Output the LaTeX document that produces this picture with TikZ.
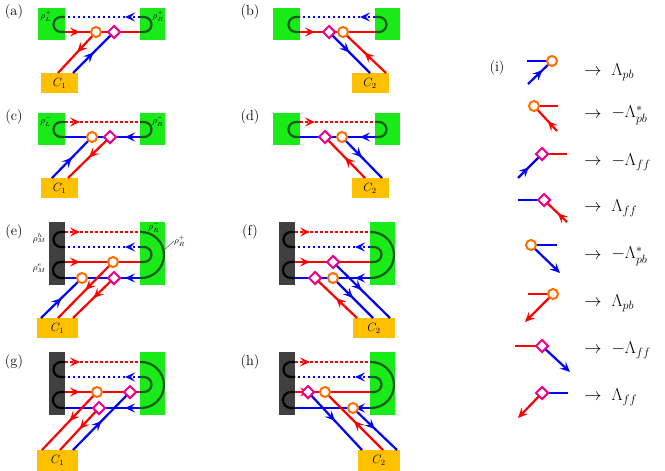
\documentclass[tikz,border=0pt]{standalone}
\usepackage{amsmath, amssymb}
\usetikzlibrary{arrows.meta, shapes.geometric, decorations.markings}
\definecolor{vorange}{RGB}{255,110,0}
\definecolor{boxgreen}{RGB}{25,235,25}
\definecolor{boxgold}{RGB}{255,192,0}
\definecolor{boxdark}{RGB}{64,64,64}
\definecolor{loopgreen}{RGB}{20,90,20}
\begin{document}
\begin{tikzpicture}
        [x=1pt, y=-1pt,
        >={Stealth[length=10pt,width=9pt,inset=4pt]},
        ln/.style={line width=2.2pt},
        dot/.style={ln, dash pattern=on 2.5pt off 2.5pt},
        arr/.style={decoration={markings, mark=at position #1 with {\arrow{>}}}, postaction=decorate},
        arr/.default=0.5,
        pb/.style={circle, draw=vorange, line width=2pt, fill=white, inner sep=0pt, minimum size=10pt},
        ff/.style={diamond, draw=magenta, line width=2pt, fill=white, inner sep=0pt, minimum size=13pt},
        cbox/.style={fill=boxgold, inner sep=0pt, font=\large},
        tag/.style={font=\Large},
        rho/.style={font=\small, inner sep=0pt}]
        \useasboundingbox (0,0) rectangle (665,471);
        % panel tags
        \node[tag] (ta) at (14,12) {(a)};
        \node[tag] (tb) at (250,12) {(b)};
        \node[tag] (tc) at (14,117) {(c)};
        \node[tag] (td) at (250,117) {(d)};
        \node[tag] (te) at (14,232) {(e)};
        \node[tag] (tf) at (250,232) {(f)};
        \node[tag] (tg) at (14,362) {(g)};
        \node[tag] (th) at (250,362) {(h)};
        \node[tag] (ti) at (497,68) {(i)};
        % two-lead frames (a)-(d)
        \foreach \dx/\dy in {0/0, 235/0, 0/105, 235/105} {
          \begin{scope}[shift={(\dx,\dy)}]
            \fill[boxgreen] (38,8) rectangle (65,40);
            \fill[boxgreen] (140,8) rectangle (165,40);
            \draw[ln, loopgreen] (65,17) -- (61,17) arc[start angle=-90, end angle=-270, radius=7.5] -- (65,32);
            \draw[ln, loopgreen] (140,17) -- (144,17) arc[start angle=-90, end angle=90, radius=7.5] -- (140,32);
          \end{scope}
        }
        \node[rho] (rLp) at (46,16) {$\rho_L^+$};
        \node[rho] (rRp) at (158,16) {$\rho_R^+$};
        \node[rho] (rLm) at (46,121) {$\rho_L^-$};
        \node[rho] (rRm) at (158,121) {$\rho_R^-$};
        \foreach \dx in {0,235} {
          \draw[dot, blue, arr=0.2] (140+\dx,17) -- (65+\dx,17);
          \draw[ln, red, arr=0.2] (65+\dx,32) -- (140+\dx,32);
          \draw[dot, red, arr=0.2] (65+\dx,122) -- (140+\dx,122);
          \draw[ln, blue, arr=0.2] (140+\dx,137) -- (65+\dx,137);
        }
        % four-lead frames (e)-(h)
        \foreach \dx/\dy in {0/0, 230/0, 0/130, 230/130} {
          \begin{scope}[shift={(\dx,\dy)}]
            \fill[boxdark] (49,222) rectangle (65,285);
            \fill[boxgreen] (140,222) rectangle (165,285);
            \draw[ln] (65,232) -- (61,232) arc[start angle=-90, end angle=-270, radius=7.5] -- (65,247);
            \draw[ln] (65,262) -- (61,262) arc[start angle=-90, end angle=-270, radius=8] -- (65,278);
            \draw[ln, loopgreen] (140,247) -- (144,247) arc[start angle=-90, end angle=90, radius=7.5] -- (140,262);
            \draw[ln, loopgreen] (140,232) -- (141,232) arc[start angle=-90, end angle=90, radius=23] -- (140,278);
            \draw[dot, red, arr=0.2] (65,232) -- (140,232);
            \draw[dot, blue, arr=0.2] (140,247) -- (65,247);
            \draw[ln, red, arr=0.2] (65,262) -- (140,262);
            \draw[ln, blue, arr=0.2] (140,278) -- (65,278);
          \end{scope}
        }
        \node[rho, anchor=east] (rMh) at (46,238) {$\rho_M^h$};
        \node[rho, anchor=east] (rMe) at (46,268) {$\rho_M^e$};
        \node[rho] (rRe) at (154,227) {$\rho_R^-$};
        \node[rho, anchor=west] (rRo) at (174,241) {$\rho_R^+$};
        \draw[thin, loopgreen] (rRo.west) -- (163,251);
        % (a)
        \node[cbox, minimum width=37pt, minimum height=20pt] (Ca) at (59.5,83) {$C_1$};
        \coordinate (Ca1) at (58,73); \coordinate (Ca2) at (73,73);
        \draw[ln, red, arr] (96,32) -- (Ca1);
        \draw[ln, blue, arr] (Ca2) -- (114,32);
        \node[pb] (ao) at (96,32) {};
        \node[ff] (ad) at (114,32) {};
        % (b)
        \node[cbox, minimum width=37pt, minimum height=20pt] (Cb) at (370,83) {$C_2$};
        \coordinate (Cb1) at (370,73); \coordinate (Cb2) at (386,73);
        \draw[ln, blue, arr] (329,32) -- (Cb1);
        \draw[ln, red, arr] (Cb2) -- (343,32);
        \node[ff] (bd) at (329,32) {};
        \node[pb] (bo) at (343,32) {};
        % (c)
        \node[cbox, minimum width=37pt, minimum height=20pt] (Cc) at (59.5,188) {$C_1$};
        \coordinate (Cc1) at (52,178); \coordinate (Cc2) at (68,178);
        \draw[ln, blue, arr] (Cc1) -- (92,137);
        \draw[ln, red, arr] (110,137) -- (Cc2);
        \node[pb] (co) at (92,137) {};
        \node[ff] (cd) at (110,137) {};
        % (d)
        \node[cbox, minimum width=37pt, minimum height=20pt] (Cd) at (370,188) {$C_2$};
        \coordinate (Cd1) at (365,178); \coordinate (Cd2) at (382,178);
        \draw[ln, red, arr] (Cd1) -- (325,137);
        \draw[ln, blue, arr] (342,137) -- (Cd2);
        \node[ff] (dd) at (325,137) {};
        \node[pb] (do) at (342,137) {};
        % (e)
        \node[cbox, minimum width=41pt, minimum height=20pt] (Ce) at (57.5,328) {$C_1$};
        \coordinate (Ce1) at (41,318); \coordinate (Ce2) at (58,318); \coordinate (Ce3) at (73,318);
        \draw[ln, red, arr] (113,262) -- (Ce2);
        \draw[ln, red, arr] (114,278) -- (Ce3);
        \draw[ln, blue, arr] (Ce1) -- (82,278);
        \node[pb] (eo1) at (113,262) {};
        \node[pb] (eo2) at (82,278) {};
        \node[ff] (ed) at (114,278) {};
        % (f)
        \node[cbox, minimum width=42pt, minimum height=20pt] (Cf) at (374,328) {$C_2$};
        \coordinate (Cf1) at (357,318); \coordinate (Cf2) at (373,318); \coordinate (Cf3) at (390,318);
        \draw[ln, blue, arr] (333,262) -- (Cf3);
        \draw[ln, blue, arr] (333,278) -- (Cf2);
        \draw[ln, red, arr] (Cf1) -- (315,278);
        \node[ff] (fd1) at (333,262) {};
        \node[ff] (fd2) at (315,278) {};
        \node[pb] (fo) at (333,278) {};
        % (g)
        \node[cbox, minimum width=41pt, minimum height=21pt] (Cg) at (57.5,460.5) {$C_1$};
        \coordinate (Cg1) at (42,450); \coordinate (Cg2) at (60,450); \coordinate (Cg3) at (73,450);
        \draw[ln, red, arr] (97,392) -- (Cg1);
        \draw[ln, red, arr] (99,408) -- (Cg2);
        \draw[ln, blue, arr] (Cg3) -- (130,392);
        \node[pb] (go) at (97,392) {};
        \node[ff] (gd2) at (99,408) {};
        \node[ff] (gd1) at (130,392) {};
        % (h)
        \node[cbox, minimum width=42pt, minimum height=21pt] (Ch) at (379,460.5) {$C_2$};
        \coordinate (Ch1) at (362,450); \coordinate (Ch2) at (383,450); \coordinate (Ch3) at (397,450);
        \draw[ln, blue, arr] (308,392) -- (Ch1);
        \draw[ln, red, arr] (Ch2) -- (325,392);
        \draw[ln, blue, arr] (353,408) -- (Ch3);
        \node[ff] (hd) at (308,392) {};
        \node[pb] (ho1) at (325,392) {};
        \node[pb] (ho2) at (353,408) {};
        % (i) legend
        \coordinate (l1a) at (527,61); \coordinate (l1b) at (528,84);
        \draw[ln, blue] (l1a) -- (552,61);
        \draw[ln, blue, arr=0.6] (l1b) -- (552,61);
        \node[pb] (l1) at (552,61) {};
        \coordinate (l2a) at (558,106); \coordinate (l2b) at (557,131);
        \draw[ln, red] (l2a) -- (534,106);
        \draw[ln, red, arr=0.4] (l2b) -- (534,106);
        \node[pb] (l2) at (534,106) {};
        \coordinate (l3a) at (567,154); \coordinate (l3b) at (518,178);
        \draw[ln, red] (l3a) -- (542,154);
        \draw[ln, blue, arr=0.45] (l3b) -- (542,154);
        \node[ff] (l3) at (542,154) {};
        \coordinate (l4a) at (518,200); \coordinate (l4b) at (567,222);
        \draw[ln, blue] (l4a) -- (544,200);
        \draw[ln, red, arr=0.4] (l4b) -- (544,200);
        \node[ff] (l4) at (544,200) {};
        \coordinate (l5a) at (557,245); \coordinate (l5b) at (560,273);
        \draw[ln, blue] (531,245) -- (l5a);
        \draw[ln, blue, ->] (531,245) -- (l5b);
        \node[pb] (l5) at (531,245) {};
        \coordinate (l6a) at (528,294); \coordinate (l6b) at (525,322);
        \draw[ln, red] (553,294) -- (l6a);
        \draw[ln, red, ->] (553,294) -- (l6b);
        \node[pb] (l6) at (553,294) {};
        \coordinate (l7a) at (515,346); \coordinate (l7b) at (570,372);
        \draw[ln, red] (542,346) -- (l7a);
        \draw[ln, blue, ->] (542,346) -- (l7b);
        \node[ff] (l7) at (542,346) {};
        \coordinate (l8a) at (568,393); \coordinate (l8b) at (518,418);
        \draw[ln, blue] (542,393) -- (l8a);
        \draw[ln, red, ->] (542,393) -- (l8b);
        \node[ff] (l8) at (542,393) {};
        \foreach \y/\lab [count=\i] in {72/\Lambda_{pb}, 115/-\Lambda_{pb}^*, 162/-\Lambda_{ff}, 208/\Lambda_{ff},
                                        256/-\Lambda_{pb}^*, 303/\Lambda_{pb}, 350/-\Lambda_{ff}, 397/\Lambda_{ff}} {
          \node[font=\LARGE] (to\i) at (593,\y) {$\rightarrow$};
          \node[font=\LARGE, anchor=west] (val\i) at (608,\y) {$\lab$};
        }
     \end{tikzpicture}
\end{document}
